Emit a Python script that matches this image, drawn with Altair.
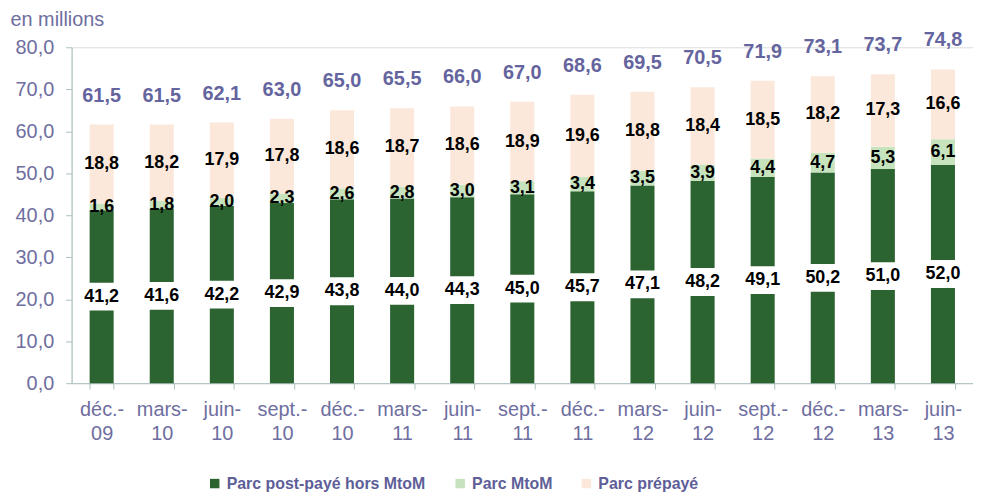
import altair as alt
import pandas as pd

categories = ["déc.-09", "mars-10", "juin-10", "sept.-10", "déc.-10", "mars-11", "juin-11",
              "sept.-11", "déc.-11", "mars-12", "juin-12", "sept.-12", "déc.-12", "mars-13", "juin-13"]
postpaye = [41.2, 41.6, 42.2, 42.9, 43.8, 44.0, 44.3, 45.0, 45.7, 47.1, 48.2, 49.1, 50.2, 51.0, 52.0]
mtom = [1.6, 1.8, 2.0, 2.3, 2.6, 2.8, 3.0, 3.1, 3.4, 3.5, 3.9, 4.4, 4.7, 5.3, 6.1]
prepaye = [18.8, 18.2, 17.9, 17.8, 18.6, 18.7, 18.6, 18.9, 19.6, 18.8, 18.4, 18.5, 18.2, 17.3, 16.6]
totals = [61.5, 61.5, 62.1, 63.0, 65.0, 65.5, 66.0, 67.0, 68.6, 69.5, 70.5, 71.9, 73.1, 73.7, 74.8]
series_names = ["Parc post-payé hors MtoM", "Parc MtoM", "Parc prépayé"]
colors = ["#2B6431", "#C6E3BE", "#FCE8DA"]

FONT = "Liberation Sans"
AXIS_COL = "#6E6EA0"
TOTAL_COL = "#64649E"


def fr(v):
    return f"{v:.1f}".replace(".", ",")


rows = []
for i, c in enumerate(categories):
    base = 0.0
    for k, (name, vals) in enumerate(zip(series_names, [postpaye, mtom, prepaye])):
        v = vals[i]
        rows.append(dict(cat=c, series=name, order=k, value=v, y0=base, y1=base + v,
                         mid=base + v / 2, label=fr(v)))
        base += v
df = pd.DataFrame(rows)
tot_df = pd.DataFrame(dict(cat=categories, total=totals, label=[fr(t) for t in totals]))

x_enc = alt.X("cat:N", sort=categories,
              scale=alt.Scale(paddingInner=0.6, paddingOuter=0.3),
              axis=alt.Axis(title=None, labelAngle=0, tickBand="extent", tickSize=6,
                            labelPadding=11, labelFontSize=20, labelColor=AXIS_COL,
                            labelFont=FONT, labelLineHeight=24, labelBaseline="top",
                            domainColor="#A9C0C0", tickColor="#A9C0C0",
                            labelExpr="[slice(datum.label, 0, indexof(datum.label, '-') + 1), slice(datum.label, indexof(datum.label, '-') + 1)]"))

y_scale = alt.Scale(domain=[0, 80], nice=False)

bars = alt.Chart(df).mark_bar().encode(
    x=x_enc,
    y=alt.Y("y0:Q", scale=y_scale,
            axis=alt.Axis(values=list(range(0, 81, 10)), grid=False, tickSize=6,
                          labelPadding=12, labelFontSize=20, labelColor=AXIS_COL, labelFont=FONT,
                          labelExpr="replace(format(datum.value, '.1f'), '.', ',')",
                          domainColor="#A9C0C0", tickColor="#A9C0C0",
                          title="en millions", titleAngle=0, titleAlign="left",
                          titleBaseline="middle", titleX=-62, titleY=-28,
                          titleFontSize=20, titleFontWeight="normal", titleColor=AXIS_COL,
                          titleFont=FONT)),
    y2="y1:Q",
    color=alt.Color("series:N", sort=series_names,
                    scale=alt.Scale(domain=series_names, range=colors),
                    legend=alt.Legend(title=None, orient="none", legendX=136, legendY=431,
                                      direction="horizontal", symbolType="square",
                                      symbolSize=90, symbolStrokeWidth=0,
                                      labelFontSize=16, labelFontWeight="bold",
                                      labelColor="#5E5E98", labelFont=FONT, labelLimit=400,
                                      columnPadding=26, labelOffset=4)),
)

post_df_filter = alt.datum.order == 0

white_box = alt.Chart(df).transform_filter(post_df_filter).mark_tick(
    color="white", thickness=28, size=44, opacity=1
).encode(x=alt.X("cat:N", sort=categories), y=alt.Y("mid:Q", scale=y_scale))

seg_labels = alt.Chart(df).mark_text(
    font=FONT, fontSize=18, fontWeight="bold", color="black", baseline="middle"
).encode(x=alt.X("cat:N", sort=categories), y=alt.Y("mid:Q", scale=y_scale), text="label:N")

tot_labels = alt.Chart(tot_df).mark_text(
    font=FONT, fontSize=20, fontWeight="bold", color=TOTAL_COL, baseline="middle", dy=-29
).encode(x=alt.X("cat:N", sort=categories), y=alt.Y("total:Q", scale=y_scale), text="label:N")

chart = alt.layer(bars, white_box, seg_labels, tot_labels).properties(
    width=907, height=338,
    autosize=alt.AutoSizeParams(type="none"),
    padding={"left": 64, "top": 38, "right": 0, "bottom": 112},
).configure_view(stroke=None).configure(font=FONT)

chart.save("out.html", embed_options={"renderer": "svg", "actions": False})
